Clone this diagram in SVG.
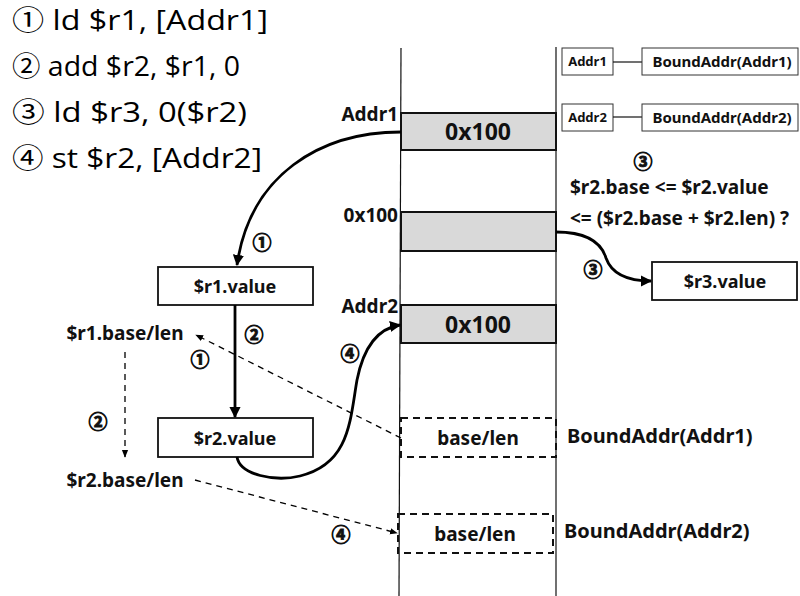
<svg xmlns="http://www.w3.org/2000/svg" width="800" height="596" viewBox="0 0 800 596">
<defs>
<marker id="ah" viewBox="0 0 10 10" refX="9" refY="5" markerWidth="4" markerHeight="4" orient="auto" markerUnits="strokeWidth">
<path d="M0,0 L10,5 L0,10 Z" fill="#000"/>
</marker>
<marker id="ahs" viewBox="0 0 10 10" refX="9" refY="5" markerWidth="6" markerHeight="6" orient="auto" markerUnits="strokeWidth">
<path d="M0,1 L10,5 L0,9 Z" fill="#000"/>
</marker>
</defs>
<style>
.code{font-family:"Open Sans","Noto Sans CJK JP",sans-serif;font-size:27px;fill:#000}
.b{font-family:"Noto Sans","Open Sans","DejaVu Sans",sans-serif;font-weight:bold;fill:#111}
.c{font-family:"Noto Sans CJK JP","Noto Sans CJK SC",sans-serif;font-weight:bold;fill:#111;stroke:#111;stroke-width:0.9;font-size:19px;text-anchor:middle}
.mem{fill:#d9d9d9;stroke:#111;stroke-width:2}
.box{fill:#fff;stroke:#111;stroke-width:1.8}
.sbox{fill:#fff;stroke:#333;stroke-width:1}
.dbox{fill:none;stroke:#111;stroke-width:2;stroke-dasharray:7,5}
.col{stroke:#111;stroke-width:1.2;fill:none}
.arr{fill:none;stroke:#000;stroke-width:2.8;marker-end:url(#ah)}
.darr{fill:none;stroke:#000;stroke-width:1.3;stroke-dasharray:6,5;marker-end:url(#ahs)}
</style>
<rect width="800" height="596" fill="#fff"/>

<g id="code">
<text class="code" x="12" y="30" textLength="256" lengthAdjust="spacingAndGlyphs">① ld $r1, [Addr1]</text>
<text class="code" x="12" y="76" textLength="228" lengthAdjust="spacingAndGlyphs">② add $r2, $r1, 0</text>
<text class="code" x="12" y="122" textLength="235" lengthAdjust="spacingAndGlyphs">③ ld $r3, 0($r2)</text>
<text class="code" x="12" y="168" textLength="250" lengthAdjust="spacingAndGlyphs">④ st $r2, [Addr2]</text>
</g>

<g id="memory-columns">
<line class="col" x1="401" y1="48" x2="399" y2="596"/>
<line class="col" x1="556" y1="47" x2="556" y2="596"/>
</g>

<g id="mem-addr1">
<rect class="mem" x="401" y="113" width="155" height="37"/>
<text class="b" x="478" y="140" font-size="23" text-anchor="middle">0x100</text>
<text class="b" x="398" y="121" font-size="19" text-anchor="end">Addr1</text>
</g>
<g id="mem-0x100">
<rect class="mem" x="401" y="212" width="155" height="39"/>
<text class="b" x="398" y="222" font-size="19" text-anchor="end">0x100</text>
</g>
<g id="mem-addr2">
<rect class="mem" x="401" y="305" width="155" height="38"/>
<text class="b" x="478" y="333" font-size="23" text-anchor="middle">0x100</text>
<text class="b" x="398" y="313" font-size="19" text-anchor="end">Addr2</text>
</g>
<g id="bound1">
<rect class="dbox" x="401" y="418" width="155" height="39"/>
<text class="b" x="478" y="445" font-size="19" text-anchor="middle">base/len</text>
<text class="b" x="567" y="443" font-size="20">BoundAddr(Addr1)</text>
</g>
<g id="bound2">
<rect class="dbox" x="398" y="514" width="155" height="39"/>
<text class="b" x="475" y="541" font-size="19" text-anchor="middle">base/len</text>
<text class="b" x="564" y="538" font-size="20">BoundAddr(Addr2)</text>
</g>

<g id="map-addr1">
<rect class="sbox" x="562" y="48" width="51" height="27"/>
<text class="b" x="587.5" y="66" font-size="13" text-anchor="middle">Addr1</text>
<line class="col" x1="613" y1="62" x2="642" y2="62"/>
<rect class="sbox" x="642" y="48" width="156" height="27"/>
<text class="b" x="722" y="67" font-size="15" text-anchor="middle">BoundAddr(Addr1)</text>
</g>
<g id="map-addr2">
<rect class="sbox" x="562" y="104" width="51" height="27"/>
<text class="b" x="587.5" y="122" font-size="13" text-anchor="middle">Addr2</text>
<line class="col" x1="613" y1="117" x2="642" y2="117"/>
<rect class="sbox" x="642" y="104" width="156" height="27"/>
<text class="b" x="722" y="123" font-size="15" text-anchor="middle">BoundAddr(Addr2)</text>
</g>

<g id="r1value">
<rect class="box" x="158" y="267" width="155" height="38"/>
<text class="b" x="235" y="293" font-size="18" text-anchor="middle">$r1.value</text>
</g>
<g id="r2value">
<rect class="box" x="158" y="418" width="155" height="39"/>
<text class="b" x="235" y="445" font-size="18" text-anchor="middle">$r2.value</text>
</g>
<g id="r3value">
<rect class="box" x="652" y="262" width="145" height="38"/>
<text class="b" x="725" y="288" font-size="18" text-anchor="middle">$r3.value</text>
</g>
<g id="r1base">
<text class="b" x="125" y="340" font-size="19" text-anchor="middle">$r1.base/len</text>
</g>
<g id="r2base">
<text class="b" x="125" y="487" font-size="19" text-anchor="middle">$r2.base/len</text>
</g>
<g id="check">
<text class="b" x="570" y="194" font-size="19">$r2.base &lt;= $r2.value</text>
<text class="b" x="570" y="225" font-size="19">&lt;= ($r2.base + $r2.len) ?</text>
</g>

<g id="connectors">
<path class="arr" d="M401,132 C320,132 250,175 237,265"/>
<path class="arr" d="M235,305 L235,417"/>
<path class="arr" d="M556,232 C590,232 602,245 606,258 C612,275 630,281 651,281"/>
<path class="arr" d="M237,457 C240,475 275,482 300,476 C350,464 350,420 357,380 C364,345 380,328 400,325"/>
<path class="darr" d="M401,438 L196,335"/>
<path class="darr" d="M125,352 L125,457"/>
<path class="darr" d="M195,480 L397,533"/>
</g>

<g id="step-labels">
<text class="c" x="262" y="250">①</text>
<text class="c" x="254" y="342">②</text>
<text class="c" x="200" y="367">①</text>
<text class="c" x="98" y="429">②</text>
<text class="c" x="350" y="361">④</text>
<text class="c" x="341" y="542">④</text>
<text class="c" x="593" y="277">③</text>
<text class="c" x="643" y="169">③</text>
</g>
</svg>
